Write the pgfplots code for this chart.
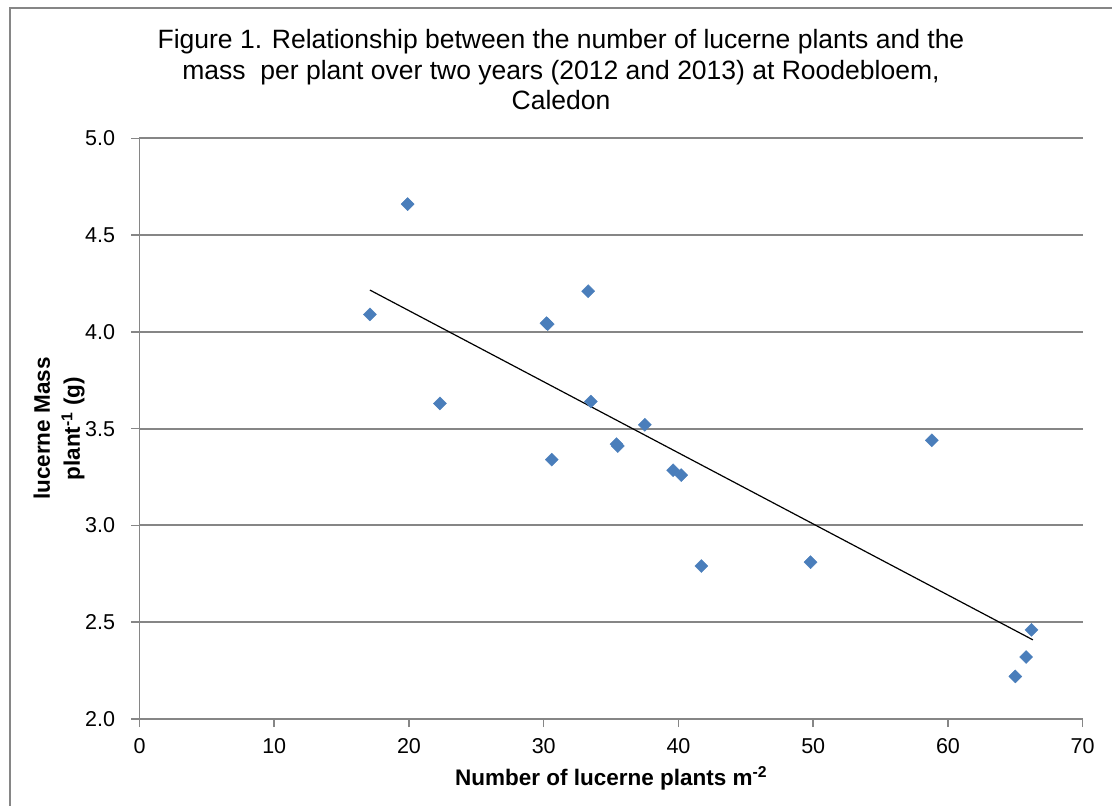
\documentclass[border=0pt]{standalone}
\usepackage{pgfplots}
\pgfplotsset{compat=1.18}
\usepackage{fontspec}
\setmainfont{Liberation Sans}

\definecolor{gridgray}{RGB}{134,134,134}
\definecolor{markblue}{RGB}{74,126,187}

\begin{document}
\begin{tikzpicture}[x=1pt,y=1pt]
% picture frame, 1 px of the reference = 1 pt
\useasboundingbox (-139.5,-87) rectangle (972.5,719);
\draw[gridgray, line width=1.5pt] (-129.5,-87) -- (-129.5,711) -- (972.5,711);

\begin{axis}[
    at={(0,0)}, anchor=south west,
    scale only axis,
    width=943.2pt, height=580.7pt,
    xmin=0, xmax=70, ymin=2, ymax=5,
    xtick={0,10,...,70},
    ytick={2,2.5,...,5},
    axis lines*=left,
    axis line style={gridgray, line width=1.5pt},
    tick style={gridgray, line width=1.5pt},
    major tick length=8pt,
    tick align=outside,
    ymajorgrids,
    grid style={gridgray, line width=2pt},
    /pgf/number format/assume math mode=true,
    yticklabel style={/pgf/number format/fixed, /pgf/number format/fixed zerofill,
        /pgf/number format/precision=1, xshift=-13pt},
    xticklabel style={yshift=-8pt},
    ticklabel style={font=\fontsize{21.5}{25}\selectfont},
    xlabel={Number of lucerne plants m\textsuperscript{-2}},
    ylabel={lucerne Mass\\plant\textsuperscript{-1} (g)},
    label style={font=\fontsize{22.5}{30}\selectfont\bfseries},
    xlabel style={at={(axis description cs:0.5,-0.1137)}, anchor=base},
    ylabel style={at={(axis description cs:-0.0853,0.5)}, anchor=center, align=center},
    clip=false,
]
\addplot[only marks, mark=square*, mark size=4.6pt,
    mark options={rotate=45, fill=markblue, draw=markblue}] coordinates {
    (17.1,4.09)
    (19.9,4.66)
    (22.3,3.63)
    (30.2,4.045)
    (30.3,4.04)
    (33.3,4.21)
    (33.5,3.64)
    (30.6,3.34)
    (35.4,3.42)
    (35.5,3.41)
    (37.5,3.52)
    (39.6,3.285)
    (40.2,3.26)
    (41.7,2.79)
    (49.8,2.81)
    (58.8,3.44)
    (66.2,2.46)
    (65.8,2.32)
    (65.0,2.22)
};
% linear trend line
\addplot[black, line width=1.2pt] coordinates {(17.1,4.216) (66.3,2.409)};
\end{axis}

\node[align=center, font=\fontsize{26.5}{30.5}\selectfont] at (421.5,649)
    {Figure 1. Relationship between the number of lucerne plants and the\\
     mass\ \ per plant over two years (2012 and 2013) at Roodebloem,\\
     Caledon};
\end{tikzpicture}
\end{document}
